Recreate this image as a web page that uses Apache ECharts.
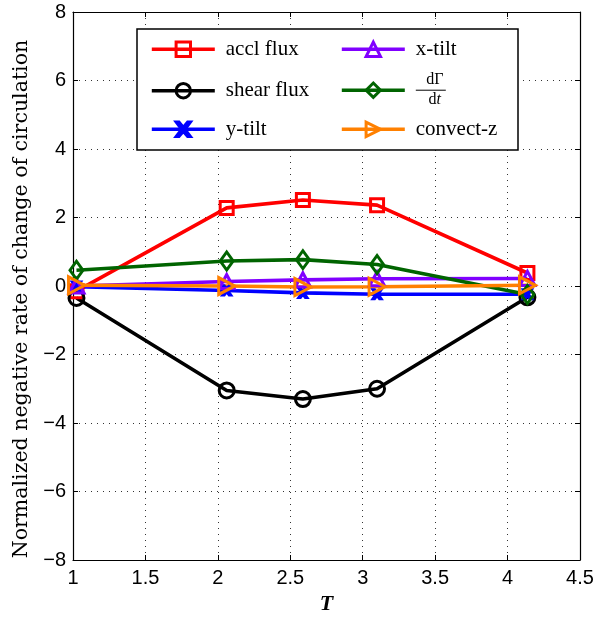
<!DOCTYPE html>
<html><head><meta charset="utf-8">
<script src="https://cdn.jsdelivr.net/npm/echarts@6/dist/echarts.min.js"></script>
<style>html,body{margin:0;padding:0;background:#fff}#c{width:597px;height:617px}</style>
</head><body><div id="c"></div>
<script>
const T = [1.024, 2.061, 2.587, 3.099, 4.137];
const acclFlux = [-0.15, 2.28, 2.51, 2.36, 0.38];
const shearFlux = [-0.35, -3.05, -3.30, -3.00, -0.33];
const yTilt = [-0.02, -0.13, -0.20, -0.24, -0.24];
const xTilt = [0.0, 0.13, 0.18, 0.21, 0.22];
const dGdt = [0.46, 0.73, 0.77, 0.63, -0.25];
const convectZ = [0.02, 0.0, -0.03, -0.02, 0.02];
const names = ['accl flux', 'shear flux', 'y-tilt', 'x-tilt', 'dΓ/dt', 'convect-z'];
const xTicks = [1, 1.5, 2, 2.5, 3, 3.5, 4, 4.5];
const yTicks = [-8, -6, -4, -2, 0, 2, 4, 6, 8];

const chart = echarts.init(document.getElementById('c'));
const pts = v => T.map((t, i) => [t, v[i]]);
const xPath = 'path://M0 0 L2 0 L5 3.5 L8 0 L10 0 L6.2 5 L10 10 L8 10 L5 6.5 L2 10 L0 10 L3.8 5 Z';
function mk(name, vals, color, symbol, size, rot, fill) {
  return {
    name, type: 'line', data: pts(vals), symbol, symbolSize: size, symbolRotate: rot || 0,
    lineStyle: { color, width: 3.6 },
    itemStyle: { color: fill || 'rgba(0,0,0,0)', borderColor: color, borderWidth: 3 },
    emphasis: { disabled: true }, z: 5
  };
}
const series = [
  mk(names[0], acclFlux, '#ff0000', 'rect', 13),
  mk(names[1], shearFlux, '#000000', 'circle', 15),
  mk(names[2], yTilt, '#0000ff', xPath, [8, 9], 0, '#0000ff'),
  mk(names[3], xTilt, '#8000ff', 'triangle', [15, 14]),
  mk(names[4], dGdt, '#006400', 'diamond', [13, 18]),
  mk(names[5], convectZ, '#ff8000', 'triangle', [17, 16], -90)
];
const serif = 'Liberation Serif';
const legendPos = [[150, 49.3], [150, 90.7], [150, 129.3], [340, 49.3], [340, 90.7], [340, 129.3]];
const legends = names.map((n, i) => ({
  data: [n], left: legendPos[i][0], top: legendPos[i][1] - (i === 4 ? 19 : 12), padding: 0,
  itemWidth: 63, itemHeight: 18, z: 6, selectedMode: false,
  lineStyle: { width: 3.6 }, itemStyle: { borderWidth: 3 },
  textStyle: { fontFamily: serif, fontSize: 21, lineHeight: 24, color: '#000', padding: [0, 0, 0, 6],
    rich: {
      n: { fontFamily: serif, fontSize: 16, lineHeight: 17, align: 'center', padding: [0, 0, 0, 8] },
      b: { width: 22, height: 1, lineHeight: 3, backgroundColor: '#000', fontSize: 1, align: 'center', padding: [0, 0, 0, 8] },
      d: { fontFamily: serif, fontSize: 16, lineHeight: 17, align: 'center', padding: [0, 0, 0, 8] },
      di: { fontFamily: serif, fontSize: 16, lineHeight: 17, fontStyle: 'italic' }
    } },
  formatter: nm => nm === 'dΓ/dt' ? '{n|dΓ}\n{b|\u00a0}\n{d|d}{di|t}' : nm
}));
const axLine = { onZero: false, lineStyle: { color: '#000', width: 1.2 } };
const tick = { inside: true, length: 5, lineStyle: { color: '#000' } };
const grid = { lineStyle: { color: '#333', type: [1, 5], width: 1 } };
const lbl = { fontFamily: 'Liberation Sans', fontSize: 20, color: '#000' };
chart.setOption({
  animation: false,
  grid: { left: 73, right: 17, top: 12, bottom: 57, containLabel: false, outerBoundsMode: 'none' },
  graphic: [{ type: 'rect', shape: { x: 137, y: 29, width: 381, height: 121 }, style: { fill: '#fff', stroke: '#000', lineWidth: 1.5 }, z: 3 }],
  legend: legends,
  xAxis: [
    { type: 'value', min: 1, max: 4.5, interval: 0.5, axisLine: axLine, axisTick: tick, splitLine: grid,
      axisLabel: Object.assign({ margin: 8, formatter: v => String(v) }, lbl),
      name: 'T', nameLocation: 'middle', nameGap: 33,
      nameTextStyle: { fontFamily: serif, fontSize: 22, fontStyle: 'italic', fontWeight: 'bold', color: '#000' } },
    { type: 'value', position: 'top', min: 1, max: 4.5, interval: 0.5, axisLine: axLine, axisTick: tick, axisLabel: { show: false }, splitLine: { show: false } }
  ],
  yAxis: [
    { type: 'value', min: -8, max: 8, interval: 2, axisLine: axLine, axisTick: tick, splitLine: grid,
      axisLabel: Object.assign({ margin: 7, formatter: v => String(v).replace('-', '\u2212') }, lbl),
      name: 'Normalized negative rate of change of circulation', nameLocation: 'middle', nameGap: 41,
      nameTextStyle: { fontFamily: 'DejaVu Serif', fontSize: 20.5, color: '#000', padding: [0, 26, 0, 0] } },
    { type: 'value', position: 'right', min: -8, max: 8, interval: 2, axisLine: axLine, axisTick: tick, axisLabel: { show: false }, splitLine: { show: false } }
  ],
  series
});
</script></body></html>
